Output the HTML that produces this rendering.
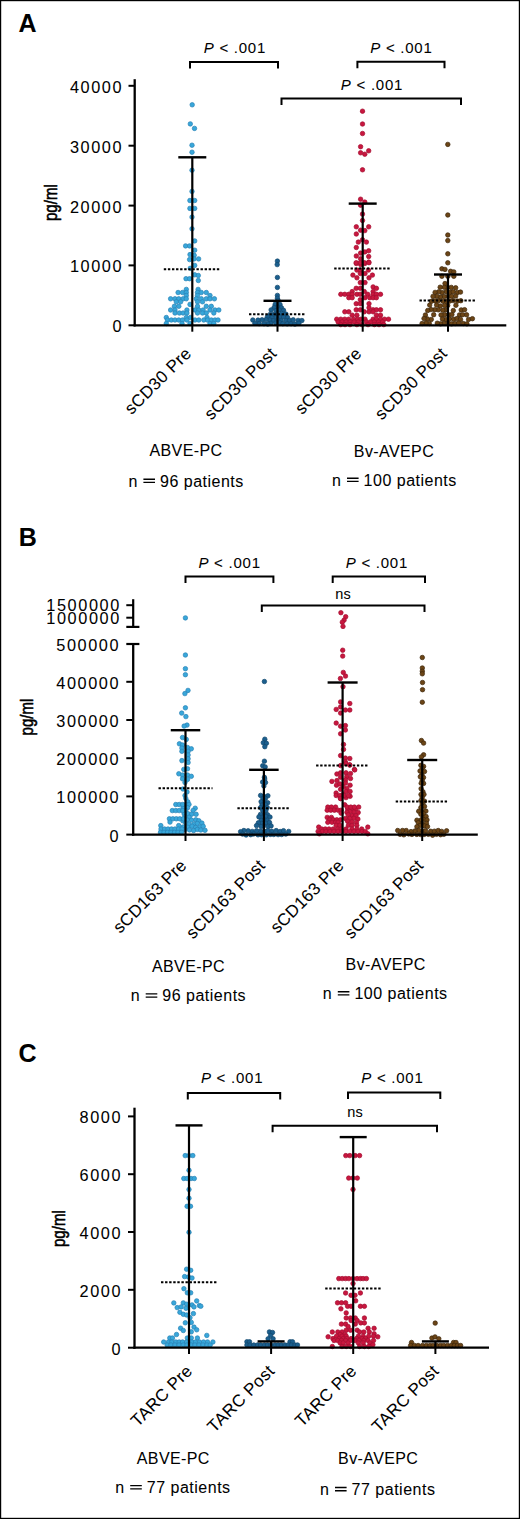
<!DOCTYPE html><html><head><meta charset="utf-8"><style>html,body{margin:0;padding:0;background:#fff}svg{display:block}text{font-family:'Liberation Sans',sans-serif;fill:#000;stroke:#000;stroke-width:0.06px}</style></head><body>
<svg width="520" height="1519" viewBox="0 0 520 1519">
<rect x="0.5" y="0.5" width="519" height="1518" fill="#fff" stroke="#000" stroke-width="1.4"/>
<text x="18.5" y="32" font-size="25" text-anchor="start" letter-spacing="0" font-weight="bold" font-style="normal" >A</text>
<g fill="#38a7da" stroke="#2982b6" stroke-width="0.7"><circle cx="192.2" cy="104.8" r="2.25"/><circle cx="190.3" cy="123.9" r="2.25"/><circle cx="194.5" cy="128.4" r="2.25"/><circle cx="192.0" cy="145.2" r="2.25"/><circle cx="192.0" cy="152.2" r="2.25"/><circle cx="192.0" cy="170.2" r="2.25"/><circle cx="192.0" cy="191.4" r="2.25"/><circle cx="189.9" cy="200.5" r="2.25"/><circle cx="194.7" cy="200.5" r="2.25"/><circle cx="189.9" cy="208.4" r="2.25"/><circle cx="194.7" cy="208.4" r="2.25"/><circle cx="192.0" cy="217.1" r="2.25"/><circle cx="192.0" cy="228.8" r="2.25"/><circle cx="194.7" cy="240.9" r="2.25"/><circle cx="185.6" cy="245.9" r="2.25"/><circle cx="189.6" cy="245.9" r="2.25"/><circle cx="194.7" cy="250.2" r="2.25"/><circle cx="190.0" cy="254.6" r="2.25"/><circle cx="194.2" cy="255.3" r="2.25"/><circle cx="189.6" cy="259.6" r="2.25"/><circle cx="194.0" cy="258.9" r="2.25"/><circle cx="198.6" cy="258.9" r="2.25"/><circle cx="194.7" cy="265.4" r="2.25"/><circle cx="190.3" cy="268.3" r="2.25"/><circle cx="194.7" cy="274.8" r="2.25"/><circle cx="198.3" cy="275.5" r="2.25"/><circle cx="186.0" cy="278.7" r="2.25"/><circle cx="189.6" cy="278.7" r="2.25"/><circle cx="198.3" cy="280.5" r="2.25"/><circle cx="186.3" cy="289.4" r="2.25"/><circle cx="198.1" cy="289.4" r="2.25"/><circle cx="178.1" cy="292.5" r="2.25"/><circle cx="182.5" cy="292.5" r="2.25"/><circle cx="186.3" cy="292.5" r="2.25"/><circle cx="197.5" cy="292.5" r="2.25"/><circle cx="201.3" cy="292.5" r="2.25"/><circle cx="206.3" cy="292.5" r="2.25"/><circle cx="186.3" cy="295.5" r="2.25"/><circle cx="197.5" cy="295.5" r="2.25"/><circle cx="210.0" cy="295.5" r="2.25"/><circle cx="170.6" cy="298.8" r="2.25"/><circle cx="175.0" cy="298.8" r="2.25"/><circle cx="178.8" cy="298.8" r="2.25"/><circle cx="183.1" cy="298.8" r="2.25"/><circle cx="186.3" cy="298.8" r="2.25"/><circle cx="196.3" cy="298.8" r="2.25"/><circle cx="201.3" cy="298.8" r="2.25"/><circle cx="206.3" cy="298.8" r="2.25"/><circle cx="210.0" cy="298.8" r="2.25"/><circle cx="214.4" cy="298.8" r="2.25"/><circle cx="176.3" cy="301.8" r="2.25"/><circle cx="180.6" cy="301.8" r="2.25"/><circle cx="197.5" cy="301.8" r="2.25"/><circle cx="202.5" cy="301.8" r="2.25"/><circle cx="190.0" cy="304.4" r="2.25"/><circle cx="174.4" cy="306.3" r="2.25"/><circle cx="178.8" cy="306.3" r="2.25"/><circle cx="197.5" cy="306.3" r="2.25"/><circle cx="206.3" cy="306.3" r="2.25"/><circle cx="211.3" cy="306.3" r="2.25"/><circle cx="170.6" cy="310.0" r="2.25"/><circle cx="175.0" cy="310.0" r="2.25"/><circle cx="186.9" cy="310.0" r="2.25"/><circle cx="195.0" cy="310.0" r="2.25"/><circle cx="198.8" cy="310.0" r="2.25"/><circle cx="203.1" cy="310.0" r="2.25"/><circle cx="210.0" cy="310.0" r="2.25"/><circle cx="215.0" cy="310.0" r="2.25"/><circle cx="218.8" cy="310.0" r="2.25"/><circle cx="175.0" cy="313.0" r="2.25"/><circle cx="179.4" cy="313.0" r="2.25"/><circle cx="183.1" cy="313.0" r="2.25"/><circle cx="186.9" cy="313.0" r="2.25"/><circle cx="197.5" cy="313.0" r="2.25"/><circle cx="202.5" cy="313.0" r="2.25"/><circle cx="206.3" cy="313.0" r="2.25"/><circle cx="213.8" cy="313.0" r="2.25"/><circle cx="166.3" cy="317.5" r="2.25"/><circle cx="186.3" cy="317.5" r="2.25"/><circle cx="190.5" cy="317.5" r="2.25"/><circle cx="207.0" cy="317.5" r="2.25"/><circle cx="167.5" cy="320.0" r="2.25"/><circle cx="171.3" cy="320.0" r="2.25"/><circle cx="175.0" cy="320.0" r="2.25"/><circle cx="178.8" cy="320.0" r="2.25"/><circle cx="182.5" cy="320.0" r="2.25"/><circle cx="186.9" cy="320.0" r="2.25"/><circle cx="195.0" cy="320.0" r="2.25"/><circle cx="198.8" cy="320.0" r="2.25"/><circle cx="203.8" cy="320.0" r="2.25"/><circle cx="207.5" cy="320.0" r="2.25"/><circle cx="211.3" cy="320.0" r="2.25"/><circle cx="215.0" cy="320.0" r="2.25"/><circle cx="218.0" cy="320.0" r="2.25"/><circle cx="166.3" cy="323.5" r="2.25"/><circle cx="182.0" cy="323.5" r="2.25"/><circle cx="190.0" cy="323.5" r="2.25"/><circle cx="210.0" cy="323.5" r="2.25"/><circle cx="213.8" cy="323.5" r="2.25"/></g>
<g fill="#1b5f8e" stroke="#13486d" stroke-width="0.7"><circle cx="277.4" cy="261.1" r="2.25"/><circle cx="277.2" cy="264.6" r="2.25"/><circle cx="277.4" cy="277.4" r="2.25"/><circle cx="277.4" cy="287.4" r="2.25"/><circle cx="277.4" cy="295.4" r="2.25"/><circle cx="277.4" cy="298.2" r="2.25"/><circle cx="278.1" cy="300.4" r="2.25"/><circle cx="280.0" cy="304.5" r="2.25"/><circle cx="275.2" cy="304.3" r="2.25"/><circle cx="277.6" cy="306.9" r="2.25"/><circle cx="281.4" cy="307.7" r="2.25"/><circle cx="274.1" cy="307.5" r="2.25"/><circle cx="279.2" cy="310.0" r="2.25"/><circle cx="283.5" cy="310.3" r="2.25"/><circle cx="276.0" cy="310.6" r="2.25"/><circle cx="271.1" cy="309.9" r="2.25"/><circle cx="277.0" cy="313.8" r="2.25"/><circle cx="281.7" cy="313.4" r="2.25"/><circle cx="285.9" cy="314.1" r="2.25"/><circle cx="273.9" cy="314.2" r="2.25"/><circle cx="270.2" cy="314.4" r="2.25"/><circle cx="279.9" cy="317.3" r="2.25"/><circle cx="283.5" cy="317.0" r="2.25"/><circle cx="287.5" cy="317.5" r="2.25"/><circle cx="276.0" cy="317.6" r="2.25"/><circle cx="271.6" cy="317.6" r="2.25"/><circle cx="267.5" cy="316.6" r="2.25"/><circle cx="277.8" cy="319.7" r="2.25"/><circle cx="281.2" cy="320.8" r="2.25"/><circle cx="286.1" cy="320.5" r="2.25"/><circle cx="289.5" cy="320.4" r="2.25"/><circle cx="293.2" cy="319.8" r="2.25"/><circle cx="298.1" cy="320.4" r="2.25"/><circle cx="301.9" cy="320.5" r="2.25"/><circle cx="273.1" cy="320.5" r="2.25"/><circle cx="269.7" cy="319.9" r="2.25"/><circle cx="266.0" cy="319.6" r="2.25"/><circle cx="262.0" cy="319.8" r="2.25"/><circle cx="258.0" cy="320.1" r="2.25"/><circle cx="252.8" cy="320.0" r="2.25"/><circle cx="279.7" cy="322.8" r="2.25"/><circle cx="282.8" cy="323.7" r="2.25"/><circle cx="287.2" cy="323.8" r="2.25"/><circle cx="291.1" cy="323.7" r="2.25"/><circle cx="294.9" cy="324.1" r="2.25"/><circle cx="298.9" cy="323.2" r="2.25"/><circle cx="275.8" cy="322.9" r="2.25"/><circle cx="270.8" cy="323.3" r="2.25"/><circle cx="267.8" cy="324.0" r="2.25"/><circle cx="264.0" cy="323.7" r="2.25"/><circle cx="259.1" cy="323.6" r="2.25"/><circle cx="254.9" cy="323.3" r="2.25"/></g>
<g fill="#c8173f" stroke="#a30f31" stroke-width="0.7"><circle cx="362.5" cy="111.2" r="2.25"/><circle cx="362.5" cy="124.0" r="2.25"/><circle cx="362.5" cy="133.5" r="2.25"/><circle cx="360.6" cy="146.7" r="2.25"/><circle cx="360.6" cy="152.8" r="2.25"/><circle cx="364.8" cy="154.2" r="2.25"/><circle cx="368.7" cy="150.8" r="2.25"/><circle cx="362.5" cy="169.8" r="2.25"/><circle cx="360.6" cy="199.2" r="2.25"/><circle cx="364.8" cy="202.1" r="2.25"/><circle cx="360.6" cy="205.2" r="2.25"/><circle cx="362.5" cy="214.1" r="2.25"/><circle cx="362.5" cy="220.5" r="2.25"/><circle cx="356.3" cy="226.8" r="2.25"/><circle cx="368.7" cy="226.8" r="2.25"/><circle cx="360.6" cy="230.2" r="2.25"/><circle cx="364.8" cy="230.6" r="2.25"/><circle cx="356.3" cy="234.0" r="2.25"/><circle cx="362.5" cy="239.8" r="2.25"/><circle cx="358.3" cy="242.1" r="2.25"/><circle cx="366.4" cy="242.1" r="2.25"/><circle cx="356.3" cy="247.5" r="2.25"/><circle cx="360.6" cy="253.1" r="2.25"/><circle cx="364.8" cy="251.9" r="2.25"/><circle cx="368.7" cy="250.8" r="2.25"/><circle cx="356.3" cy="256.0" r="2.25"/><circle cx="368.7" cy="256.5" r="2.25"/><circle cx="360.6" cy="258.8" r="2.25"/><circle cx="356.3" cy="263.5" r="2.25"/><circle cx="360.6" cy="264.4" r="2.25"/><circle cx="364.8" cy="263.5" r="2.25"/><circle cx="368.7" cy="262.1" r="2.25"/><circle cx="356.2" cy="262.7" r="2.25"/><circle cx="360.3" cy="262.7" r="2.25"/><circle cx="364.3" cy="262.7" r="2.25"/><circle cx="369.0" cy="262.7" r="2.25"/><circle cx="356.9" cy="270.1" r="2.25"/><circle cx="360.3" cy="270.1" r="2.25"/><circle cx="368.4" cy="270.1" r="2.25"/><circle cx="360.3" cy="273.5" r="2.25"/><circle cx="365.0" cy="273.5" r="2.25"/><circle cx="352.9" cy="275.1" r="2.25"/><circle cx="372.4" cy="275.1" r="2.25"/><circle cx="356.9" cy="277.8" r="2.25"/><circle cx="369.0" cy="277.8" r="2.25"/><circle cx="360.3" cy="282.6" r="2.25"/><circle cx="365.0" cy="282.6" r="2.25"/><circle cx="373.1" cy="286.9" r="2.25"/><circle cx="356.2" cy="288.3" r="2.25"/><circle cx="360.3" cy="288.3" r="2.25"/><circle cx="376.4" cy="288.3" r="2.25"/><circle cx="352.2" cy="291.6" r="2.25"/><circle cx="364.3" cy="291.6" r="2.25"/><circle cx="373.1" cy="291.6" r="2.25"/><circle cx="340.8" cy="294.3" r="2.25"/><circle cx="344.8" cy="294.3" r="2.25"/><circle cx="348.8" cy="294.3" r="2.25"/><circle cx="352.2" cy="294.3" r="2.25"/><circle cx="356.9" cy="294.3" r="2.25"/><circle cx="360.3" cy="294.3" r="2.25"/><circle cx="367.7" cy="294.3" r="2.25"/><circle cx="373.1" cy="294.3" r="2.25"/><circle cx="376.4" cy="294.3" r="2.25"/><circle cx="380.5" cy="294.3" r="2.25"/><circle cx="348.8" cy="297.7" r="2.25"/><circle cx="352.2" cy="297.7" r="2.25"/><circle cx="365.0" cy="297.7" r="2.25"/><circle cx="369.7" cy="297.7" r="2.25"/><circle cx="373.1" cy="297.7" r="2.25"/><circle cx="376.4" cy="297.7" r="2.25"/><circle cx="360.3" cy="299.7" r="2.25"/><circle cx="356.2" cy="303.7" r="2.25"/><circle cx="360.3" cy="303.7" r="2.25"/><circle cx="369.0" cy="303.7" r="2.25"/><circle cx="369.0" cy="307.8" r="2.25"/><circle cx="356.2" cy="309.8" r="2.25"/><circle cx="360.3" cy="309.8" r="2.25"/><circle cx="373.1" cy="309.8" r="2.25"/><circle cx="376.4" cy="309.8" r="2.25"/><circle cx="380.5" cy="309.8" r="2.25"/><circle cx="344.8" cy="311.8" r="2.25"/><circle cx="348.8" cy="311.8" r="2.25"/><circle cx="364.3" cy="311.8" r="2.25"/><circle cx="369.0" cy="311.8" r="2.25"/><circle cx="373.1" cy="311.8" r="2.25"/><circle cx="352.2" cy="315.2" r="2.25"/><circle cx="356.9" cy="315.2" r="2.25"/><circle cx="376.4" cy="315.2" r="2.25"/><circle cx="380.5" cy="315.2" r="2.25"/><circle cx="336.7" cy="319.2" r="2.25"/><circle cx="340.8" cy="319.2" r="2.25"/><circle cx="344.8" cy="319.2" r="2.25"/><circle cx="348.8" cy="319.2" r="2.25"/><circle cx="353.6" cy="319.2" r="2.25"/><circle cx="357.6" cy="319.2" r="2.25"/><circle cx="361.0" cy="319.2" r="2.25"/><circle cx="365.0" cy="319.2" r="2.25"/><circle cx="373.1" cy="319.2" r="2.25"/><circle cx="376.4" cy="319.2" r="2.25"/><circle cx="380.5" cy="319.2" r="2.25"/><circle cx="384.5" cy="319.2" r="2.25"/><circle cx="388.5" cy="319.2" r="2.25"/><circle cx="338.1" cy="321.9" r="2.25"/><circle cx="342.1" cy="321.9" r="2.25"/><circle cx="346.2" cy="321.9" r="2.25"/><circle cx="350.2" cy="321.9" r="2.25"/><circle cx="354.2" cy="321.9" r="2.25"/><circle cx="358.3" cy="321.9" r="2.25"/><circle cx="366.3" cy="321.9" r="2.25"/><circle cx="370.4" cy="321.9" r="2.25"/><circle cx="374.4" cy="321.9" r="2.25"/><circle cx="378.5" cy="321.9" r="2.25"/><circle cx="382.5" cy="321.9" r="2.25"/><circle cx="340.8" cy="324.6" r="2.25"/><circle cx="345.0" cy="324.6" r="2.25"/><circle cx="350.0" cy="324.6" r="2.25"/><circle cx="356.9" cy="324.6" r="2.25"/><circle cx="362.0" cy="324.6" r="2.25"/><circle cx="368.0" cy="324.6" r="2.25"/><circle cx="374.4" cy="324.6" r="2.25"/><circle cx="379.0" cy="324.6" r="2.25"/><circle cx="383.8" cy="324.6" r="2.25"/></g>
<g fill="#6c4516" stroke="#3e270b" stroke-width="0.7"><circle cx="447.8" cy="144.4" r="2.25"/><circle cx="447.8" cy="215.0" r="2.25"/><circle cx="447.8" cy="235.0" r="2.25"/><circle cx="447.8" cy="240.6" r="2.25"/><circle cx="447.8" cy="253.8" r="2.25"/><circle cx="447.8" cy="262.8" r="2.25"/><circle cx="441.9" cy="268.8" r="2.25"/><circle cx="445.0" cy="269.4" r="2.25"/><circle cx="450.6" cy="271.3" r="2.25"/><circle cx="453.8" cy="271.9" r="2.25"/><circle cx="441.9" cy="276.3" r="2.25"/><circle cx="447.8" cy="276.3" r="2.25"/><circle cx="453.8" cy="276.3" r="2.25"/><circle cx="445.0" cy="283.5" r="2.25"/><circle cx="447.6" cy="287.4" r="2.25"/><circle cx="451.3" cy="287.4" r="2.25"/><circle cx="455.7" cy="287.8" r="2.25"/><circle cx="444.3" cy="287.3" r="2.25"/><circle cx="440.2" cy="287.2" r="2.25"/><circle cx="450.2" cy="292.3" r="2.25"/><circle cx="453.2" cy="291.8" r="2.25"/><circle cx="457.5" cy="292.4" r="2.25"/><circle cx="460.5" cy="292.1" r="2.25"/><circle cx="446.2" cy="291.7" r="2.25"/><circle cx="442.0" cy="292.4" r="2.25"/><circle cx="438.8" cy="291.8" r="2.25"/><circle cx="435.1" cy="292.4" r="2.25"/><circle cx="448.0" cy="296.4" r="2.25"/><circle cx="451.6" cy="296.2" r="2.25"/><circle cx="455.7" cy="296.0" r="2.25"/><circle cx="444.1" cy="296.5" r="2.25"/><circle cx="440.4" cy="297.0" r="2.25"/><circle cx="436.8" cy="296.2" r="2.25"/><circle cx="433.0" cy="296.4" r="2.25"/><circle cx="449.7" cy="301.1" r="2.25"/><circle cx="453.2" cy="300.6" r="2.25"/><circle cx="457.5" cy="301.1" r="2.25"/><circle cx="460.8" cy="300.7" r="2.25"/><circle cx="445.7" cy="301.2" r="2.25"/><circle cx="442.9" cy="301.2" r="2.25"/><circle cx="438.3" cy="300.8" r="2.25"/><circle cx="435.3" cy="300.9" r="2.25"/><circle cx="431.5" cy="301.3" r="2.25"/><circle cx="447.7" cy="305.4" r="2.25"/><circle cx="455.9" cy="305.3" r="2.25"/><circle cx="444.6" cy="305.4" r="2.25"/><circle cx="440.2" cy="306.0" r="2.25"/><circle cx="436.6" cy="305.1" r="2.25"/><circle cx="429.7" cy="305.1" r="2.25"/><circle cx="453.3" cy="310.5" r="2.25"/><circle cx="461.2" cy="309.9" r="2.25"/><circle cx="464.6" cy="309.7" r="2.25"/><circle cx="445.7" cy="309.9" r="2.25"/><circle cx="442.8" cy="310.3" r="2.25"/><circle cx="438.3" cy="309.8" r="2.25"/><circle cx="434.8" cy="309.7" r="2.25"/><circle cx="431.0" cy="309.6" r="2.25"/><circle cx="427.7" cy="310.5" r="2.25"/><circle cx="448.4" cy="314.7" r="2.25"/><circle cx="451.9" cy="314.5" r="2.25"/><circle cx="459.5" cy="314.9" r="2.25"/><circle cx="462.6" cy="314.7" r="2.25"/><circle cx="466.6" cy="314.8" r="2.25"/><circle cx="444.5" cy="314.7" r="2.25"/><circle cx="441.0" cy="315.0" r="2.25"/><circle cx="433.7" cy="314.7" r="2.25"/><circle cx="425.4" cy="315.0" r="2.25"/><circle cx="449.4" cy="318.7" r="2.25"/><circle cx="453.6" cy="319.2" r="2.25"/><circle cx="457.0" cy="318.5" r="2.25"/><circle cx="460.5" cy="319.4" r="2.25"/><circle cx="468.6" cy="319.4" r="2.25"/><circle cx="472.4" cy="318.7" r="2.25"/><circle cx="446.0" cy="319.4" r="2.25"/><circle cx="442.4" cy="319.0" r="2.25"/><circle cx="431.3" cy="319.4" r="2.25"/><circle cx="427.3" cy="318.9" r="2.25"/><circle cx="424.0" cy="318.5" r="2.25"/><circle cx="448.3" cy="323.1" r="2.25"/><circle cx="451.6" cy="323.8" r="2.25"/><circle cx="455.1" cy="323.5" r="2.25"/><circle cx="458.7" cy="323.1" r="2.25"/><circle cx="463.2" cy="323.5" r="2.25"/><circle cx="466.9" cy="323.8" r="2.25"/><circle cx="444.0" cy="323.3" r="2.25"/><circle cx="440.5" cy="323.8" r="2.25"/><circle cx="437.3" cy="323.2" r="2.25"/><circle cx="429.3" cy="323.5" r="2.25"/><circle cx="426.0" cy="323.0" r="2.25"/><circle cx="422.1" cy="323.5" r="2.25"/></g>
<line x1="134.7" y1="79.2" x2="134.7" y2="326.40000000000003" stroke="#000" stroke-width="2.3" />
<line x1="133.6" y1="325.3" x2="506.3" y2="325.3" stroke="#000" stroke-width="2.3" />
<line x1="128.5" y1="325.3" x2="134.7" y2="325.3" stroke="#000" stroke-width="2" />
<text x="123.2" y="332.2" font-size="16.3" text-anchor="end" letter-spacing="1.6">0</text>
<line x1="128.5" y1="265.4" x2="134.7" y2="265.4" stroke="#000" stroke-width="2" />
<text x="123.2" y="272.29999999999995" font-size="16.3" text-anchor="end" letter-spacing="1.6">10000</text>
<line x1="128.5" y1="205.6" x2="134.7" y2="205.6" stroke="#000" stroke-width="2" />
<text x="123.2" y="212.5" font-size="16.3" text-anchor="end" letter-spacing="1.6">20000</text>
<line x1="128.5" y1="145.7" x2="134.7" y2="145.7" stroke="#000" stroke-width="2" />
<text x="123.2" y="152.6" font-size="16.3" text-anchor="end" letter-spacing="1.6">30000</text>
<line x1="128.5" y1="85.8" x2="134.7" y2="85.8" stroke="#000" stroke-width="2" />
<text x="123.2" y="92.7" font-size="16.3" text-anchor="end" letter-spacing="1.6">40000</text>
<line x1="192.3" y1="325.3" x2="192.3" y2="331.7" stroke="#000" stroke-width="2" />
<line x1="277.5" y1="325.3" x2="277.5" y2="331.7" stroke="#000" stroke-width="2" />
<line x1="362.7" y1="325.3" x2="362.7" y2="331.7" stroke="#000" stroke-width="2" />
<line x1="448.0" y1="325.3" x2="448.0" y2="331.7" stroke="#000" stroke-width="2" />
<line x1="192.3" y1="157.3" x2="192.3" y2="325.3" stroke="#000" stroke-width="2.2" />
<line x1="178.3" y1="157.3" x2="206.3" y2="157.3" stroke="#000" stroke-width="2.4" />
<line x1="277.5" y1="300.8" x2="277.5" y2="325.3" stroke="#000" stroke-width="2.2" />
<line x1="263.5" y1="300.8" x2="291.5" y2="300.8" stroke="#000" stroke-width="2.4" />
<line x1="362.7" y1="203.6" x2="362.7" y2="325.3" stroke="#000" stroke-width="2.2" />
<line x1="348.7" y1="203.6" x2="376.7" y2="203.6" stroke="#000" stroke-width="2.4" />
<line x1="448.0" y1="274.5" x2="448.0" y2="325.3" stroke="#000" stroke-width="2.2" />
<line x1="434.0" y1="274.5" x2="462.0" y2="274.5" stroke="#000" stroke-width="2.4" />
<line x1="163.8" y1="269.3" x2="220.8" y2="269.3" stroke="#000" stroke-width="2" stroke-dasharray="2.4 1.68"/>
<line x1="249.0" y1="314.3" x2="306.0" y2="314.3" stroke="#000" stroke-width="2" stroke-dasharray="2.4 1.68"/>
<line x1="334.2" y1="268.5" x2="391.2" y2="268.5" stroke="#000" stroke-width="2" stroke-dasharray="2.4 1.68"/>
<line x1="419.5" y1="300.5" x2="476.5" y2="300.5" stroke="#000" stroke-width="2" stroke-dasharray="2.4 1.68"/>
<path d="M190 68.5 V62 H278 V68.5" fill="none" stroke="#000" stroke-width="2"/>
<text x="234.9" y="53" font-size="15" letter-spacing="0.75" text-anchor="middle"><tspan font-style="italic">P</tspan> &lt; .001</text>
<path d="M357.4 68.2 V61.7 H444.5 V68.2" fill="none" stroke="#000" stroke-width="2"/>
<text x="401.4" y="53" font-size="15" letter-spacing="0.75" text-anchor="middle"><tspan font-style="italic">P</tspan> &lt; .001</text>
<path d="M281.5 104.9 V98.4 H461 V104.9" fill="none" stroke="#000" stroke-width="2"/>
<text x="372.0" y="90.3" font-size="15" letter-spacing="0.75" text-anchor="middle"><tspan font-style="italic">P</tspan> &lt; .001</text>
<text transform="translate(51,202.6) rotate(-90) scale(0.84,1)" x="0" y="0" font-size="18" text-anchor="middle" dominant-baseline="central" style="stroke-width:0.55px">pg/ml</text>
<text transform="translate(192.3,354.5) rotate(-45)" x="0" y="0" font-size="17" text-anchor="end" letter-spacing="0.3">sCD30 Pre</text>
<text transform="translate(277.5,354.5) rotate(-45)" x="0" y="0" font-size="17" text-anchor="end" letter-spacing="0.3">sCD30 Post</text>
<text transform="translate(362.7,354.5) rotate(-45)" x="0" y="0" font-size="17" text-anchor="end" letter-spacing="0.3">sCD30 Pre</text>
<text transform="translate(448.0,354.5) rotate(-45)" x="0" y="0" font-size="17" text-anchor="end" letter-spacing="0.3">sCD30 Post</text>
<text x="186" y="456.2" font-size="16" text-anchor="middle" letter-spacing="0.4" font-weight="normal" font-style="normal" >ABVE-PC</text>
<text x="128.4" y="486.5" font-size="16">n</text>
<path d="M143.4 479.2H155.0M143.4 482.4H155.0" stroke="#000" stroke-width="1.35"/>
<text x="160.0" y="486.5" font-size="16" letter-spacing="0.5">96 patients</text>
<text x="394" y="456.6" font-size="16" text-anchor="middle" letter-spacing="0.4" font-weight="normal" font-style="normal" >Bv-AVEPC</text>
<text x="332.0" y="485.5" font-size="16">n</text>
<path d="M347 478.2H358.6M347 481.4H358.6" stroke="#000" stroke-width="1.35"/>
<text x="363.6" y="485.5" font-size="16" letter-spacing="0.5">100 patients</text>
<text x="18.8" y="546.3" font-size="25" text-anchor="start" letter-spacing="0" font-weight="bold" font-style="normal" >B</text>
<g fill="#38a7da" stroke="#2982b6" stroke-width="0.7"><circle cx="185.4" cy="617.9" r="2.25"/><circle cx="185.4" cy="655.0" r="2.25"/><circle cx="185.4" cy="668.7" r="2.25"/><circle cx="185.4" cy="674.7" r="2.25"/><circle cx="188.0" cy="690.4" r="2.25"/><circle cx="184.9" cy="693.6" r="2.25"/><circle cx="185.4" cy="707.8" r="2.25"/><circle cx="181.7" cy="713.1" r="2.25"/><circle cx="185.9" cy="716.6" r="2.25"/><circle cx="187.0" cy="725.1" r="2.25"/><circle cx="184.1" cy="726.1" r="2.25"/><circle cx="182.5" cy="737.5" r="2.25"/><circle cx="186.3" cy="739.4" r="2.25"/><circle cx="179.4" cy="743.8" r="2.25"/><circle cx="182.5" cy="745.0" r="2.25"/><circle cx="181.9" cy="748.1" r="2.25"/><circle cx="187.5" cy="747.5" r="2.25"/><circle cx="191.3" cy="748.8" r="2.25"/><circle cx="181.9" cy="751.3" r="2.25"/><circle cx="188.1" cy="751.3" r="2.25"/><circle cx="188.1" cy="755.0" r="2.25"/><circle cx="181.9" cy="760.6" r="2.25"/><circle cx="188.1" cy="758.8" r="2.25"/><circle cx="188.1" cy="762.5" r="2.25"/><circle cx="183.8" cy="769.4" r="2.25"/><circle cx="187.5" cy="768.8" r="2.25"/><circle cx="178.8" cy="773.8" r="2.25"/><circle cx="182.5" cy="775.0" r="2.25"/><circle cx="187.5" cy="775.0" r="2.25"/><circle cx="191.3" cy="776.3" r="2.25"/><circle cx="182.5" cy="778.8" r="2.25"/><circle cx="187.5" cy="779.4" r="2.25"/><circle cx="185.0" cy="782.5" r="2.25"/><circle cx="183.0" cy="789.0" r="2.25"/><circle cx="187.0" cy="792.0" r="2.25"/><circle cx="185.0" cy="795.5" r="2.25"/><circle cx="185.8" cy="798.4" r="2.25"/><circle cx="187.8" cy="801.8" r="2.25"/><circle cx="186.1" cy="804.6" r="2.25"/><circle cx="189.0" cy="804.4" r="2.25"/><circle cx="187.6" cy="807.7" r="2.25"/><circle cx="195.2" cy="808.2" r="2.25"/><circle cx="183.0" cy="808.0" r="2.25"/><circle cx="185.7" cy="810.3" r="2.25"/><circle cx="193.1" cy="810.4" r="2.25"/><circle cx="188.0" cy="813.7" r="2.25"/><circle cx="191.6" cy="814.2" r="2.25"/><circle cx="196.1" cy="814.3" r="2.25"/><circle cx="184.1" cy="813.7" r="2.25"/><circle cx="185.0" cy="816.7" r="2.25"/><circle cx="189.2" cy="817.3" r="2.25"/><circle cx="187.3" cy="820.1" r="2.25"/><circle cx="191.5" cy="820.1" r="2.25"/><circle cx="195.8" cy="819.8" r="2.25"/><circle cx="198.8" cy="820.7" r="2.25"/><circle cx="182.8" cy="820.8" r="2.25"/><circle cx="185.6" cy="822.9" r="2.25"/><circle cx="189.1" cy="824.2" r="2.25"/><circle cx="193.9" cy="824.2" r="2.25"/><circle cx="197.3" cy="823.4" r="2.25"/><circle cx="201.9" cy="823.1" r="2.25"/><circle cx="187.9" cy="827.3" r="2.25"/><circle cx="192.1" cy="826.2" r="2.25"/><circle cx="195.7" cy="827.4" r="2.25"/><circle cx="200.1" cy="826.9" r="2.25"/><circle cx="203.2" cy="826.3" r="2.25"/><circle cx="183.0" cy="827.1" r="2.25"/><circle cx="185.0" cy="829.4" r="2.25"/><circle cx="189.5" cy="829.9" r="2.25"/><circle cx="193.6" cy="830.5" r="2.25"/><circle cx="197.4" cy="829.4" r="2.25"/><circle cx="200.8" cy="830.0" r="2.25"/><circle cx="205.0" cy="830.3" r="2.25"/><circle cx="175.8" cy="804.5" r="2.25"/><circle cx="179.2" cy="804.5" r="2.25"/><circle cx="182.7" cy="804.5" r="2.25"/><circle cx="172.3" cy="810.6" r="2.25"/><circle cx="175.8" cy="810.6" r="2.25"/><circle cx="179.2" cy="810.6" r="2.25"/><circle cx="182.7" cy="810.6" r="2.25"/><circle cx="169.4" cy="818.8" r="2.25"/><circle cx="172.9" cy="818.8" r="2.25"/><circle cx="176.3" cy="818.8" r="2.25"/><circle cx="179.8" cy="818.8" r="2.25"/><circle cx="183.3" cy="818.8" r="2.25"/><circle cx="170.0" cy="822.1" r="2.25"/><circle cx="160.8" cy="825.6" r="2.25"/><circle cx="178.7" cy="825.6" r="2.25"/><circle cx="161.0" cy="829.0" r="2.25"/><circle cx="164.5" cy="829.0" r="2.25"/><circle cx="168.0" cy="829.0" r="2.25"/><circle cx="171.5" cy="829.0" r="2.25"/><circle cx="175.0" cy="829.0" r="2.25"/><circle cx="178.5" cy="829.0" r="2.25"/><circle cx="182.0" cy="829.0" r="2.25"/><circle cx="160.5" cy="832.3" r="2.25"/><circle cx="164.0" cy="832.3" r="2.25"/><circle cx="167.5" cy="832.3" r="2.25"/><circle cx="171.0" cy="832.3" r="2.25"/><circle cx="174.5" cy="832.3" r="2.25"/><circle cx="178.0" cy="832.3" r="2.25"/><circle cx="181.5" cy="832.3" r="2.25"/></g>
<g fill="#1b5f8e" stroke="#13486d" stroke-width="0.7"><circle cx="264.4" cy="681.5" r="2.25"/><circle cx="264.8" cy="739.2" r="2.25"/><circle cx="263.3" cy="742.7" r="2.25"/><circle cx="266.4" cy="743.3" r="2.25"/><circle cx="264.8" cy="746.7" r="2.25"/><circle cx="264.4" cy="761.2" r="2.25"/><circle cx="262.7" cy="765.8" r="2.25"/><circle cx="265.2" cy="766.9" r="2.25"/><circle cx="264.4" cy="777.3" r="2.25"/><circle cx="264.7" cy="779.0" r="2.25"/><circle cx="265.5" cy="782.5" r="2.25"/><circle cx="262.6" cy="782.1" r="2.25"/><circle cx="263.9" cy="786.0" r="2.25"/><circle cx="263.7" cy="796.2" r="2.25"/><circle cx="267.9" cy="795.8" r="2.25"/><circle cx="260.6" cy="795.4" r="2.25"/><circle cx="265.4" cy="798.4" r="2.25"/><circle cx="262.9" cy="798.5" r="2.25"/><circle cx="264.4" cy="802.6" r="2.25"/><circle cx="267.7" cy="802.7" r="2.25"/><circle cx="261.1" cy="801.7" r="2.25"/><circle cx="265.5" cy="804.7" r="2.25"/><circle cx="262.0" cy="805.1" r="2.25"/><circle cx="264.0" cy="808.1" r="2.25"/><circle cx="267.2" cy="807.6" r="2.25"/><circle cx="260.5" cy="807.7" r="2.25"/><circle cx="265.9" cy="810.7" r="2.25"/><circle cx="262.7" cy="810.6" r="2.25"/><circle cx="264.2" cy="814.5" r="2.25"/><circle cx="267.5" cy="814.7" r="2.25"/><circle cx="260.5" cy="814.4" r="2.25"/><circle cx="266.0" cy="816.4" r="2.25"/><circle cx="270.0" cy="817.1" r="2.25"/><circle cx="262.1" cy="817.3" r="2.25"/><circle cx="258.9" cy="816.9" r="2.25"/><circle cx="264.8" cy="820.0" r="2.25"/><circle cx="267.2" cy="820.3" r="2.25"/><circle cx="261.3" cy="820.5" r="2.25"/><circle cx="265.8" cy="823.2" r="2.25"/><circle cx="269.5" cy="822.5" r="2.25"/><circle cx="261.8" cy="823.4" r="2.25"/><circle cx="258.4" cy="822.8" r="2.25"/><circle cx="263.6" cy="825.9" r="2.25"/><circle cx="268.3" cy="826.4" r="2.25"/><circle cx="271.1" cy="825.9" r="2.25"/><circle cx="261.1" cy="826.6" r="2.25"/><circle cx="256.5" cy="825.6" r="2.25"/><circle cx="264.5" cy="831.3" r="2.25"/><circle cx="267.8" cy="830.6" r="2.25"/><circle cx="271.8" cy="831.3" r="2.25"/><circle cx="276.2" cy="830.6" r="2.25"/><circle cx="280.1" cy="831.5" r="2.25"/><circle cx="283.5" cy="830.7" r="2.25"/><circle cx="288.7" cy="831.4" r="2.25"/><circle cx="260.7" cy="831.3" r="2.25"/><circle cx="256.6" cy="830.7" r="2.25"/><circle cx="252.2" cy="831.4" r="2.25"/><circle cx="248.1" cy="830.8" r="2.25"/><circle cx="243.9" cy="830.5" r="2.25"/><circle cx="240.6" cy="831.7" r="2.25"/><circle cx="266.3" cy="834.8" r="2.25"/><circle cx="270.4" cy="834.4" r="2.25"/><circle cx="273.8" cy="834.5" r="2.25"/><circle cx="278.1" cy="834.6" r="2.25"/><circle cx="281.7" cy="834.5" r="2.25"/><circle cx="285.8" cy="834.1" r="2.25"/><circle cx="261.6" cy="834.7" r="2.25"/><circle cx="258.0" cy="834.8" r="2.25"/><circle cx="253.6" cy="834.0" r="2.25"/><circle cx="250.7" cy="834.7" r="2.25"/><circle cx="246.1" cy="835.0" r="2.25"/><circle cx="242.6" cy="834.1" r="2.25"/></g>
<g fill="#c8173f" stroke="#a30f31" stroke-width="0.7"><circle cx="340.9" cy="612.7" r="2.25"/><circle cx="345.7" cy="616.7" r="2.25"/><circle cx="344.1" cy="620.1" r="2.25"/><circle cx="342.3" cy="622.2" r="2.25"/><circle cx="343.0" cy="626.4" r="2.25"/><circle cx="342.7" cy="650.2" r="2.25"/><circle cx="342.7" cy="656.1" r="2.25"/><circle cx="343.3" cy="672.4" r="2.25"/><circle cx="345.5" cy="676.1" r="2.25"/><circle cx="340.4" cy="678.5" r="2.25"/><circle cx="343.0" cy="686.7" r="2.25"/><circle cx="340.6" cy="701.9" r="2.25"/><circle cx="349.8" cy="703.5" r="2.25"/><circle cx="340.6" cy="706.9" r="2.25"/><circle cx="336.2" cy="709.4" r="2.25"/><circle cx="345.4" cy="710.0" r="2.25"/><circle cx="349.8" cy="710.0" r="2.25"/><circle cx="340.6" cy="713.1" r="2.25"/><circle cx="336.2" cy="723.1" r="2.25"/><circle cx="340.6" cy="726.2" r="2.25"/><circle cx="345.4" cy="725.6" r="2.25"/><circle cx="345.4" cy="730.0" r="2.25"/><circle cx="340.6" cy="733.8" r="2.25"/><circle cx="343.5" cy="744.4" r="2.25"/><circle cx="343.5" cy="749.4" r="2.25"/><circle cx="340.6" cy="755.6" r="2.25"/><circle cx="345.4" cy="758.1" r="2.25"/><circle cx="349.8" cy="758.5" r="2.25"/><circle cx="345.4" cy="761.9" r="2.25"/><circle cx="340.6" cy="765.6" r="2.25"/><circle cx="349.8" cy="765.0" r="2.25"/><circle cx="354.4" cy="769.4" r="2.25"/><circle cx="346.0" cy="763.7" r="2.25"/><circle cx="349.7" cy="764.9" r="2.25"/><circle cx="354.7" cy="769.9" r="2.25"/><circle cx="336.9" cy="774.0" r="2.25"/><circle cx="340.6" cy="772.8" r="2.25"/><circle cx="346.0" cy="772.8" r="2.25"/><circle cx="350.5" cy="773.6" r="2.25"/><circle cx="340.6" cy="777.3" r="2.25"/><circle cx="346.8" cy="776.5" r="2.25"/><circle cx="331.9" cy="781.4" r="2.25"/><circle cx="336.9" cy="780.6" r="2.25"/><circle cx="345.6" cy="779.8" r="2.25"/><circle cx="350.5" cy="778.5" r="2.25"/><circle cx="336.5" cy="785.2" r="2.25"/><circle cx="339.8" cy="783.9" r="2.25"/><circle cx="345.6" cy="783.1" r="2.25"/><circle cx="350.1" cy="785.2" r="2.25"/><circle cx="340.6" cy="789.3" r="2.25"/><circle cx="346.8" cy="788.5" r="2.25"/><circle cx="336.1" cy="793.0" r="2.25"/><circle cx="346.0" cy="791.4" r="2.25"/><circle cx="350.1" cy="791.4" r="2.25"/><circle cx="340.6" cy="798.4" r="2.25"/><circle cx="346.0" cy="797.6" r="2.25"/><circle cx="350.1" cy="796.3" r="2.25"/><circle cx="343.0" cy="786.5" r="2.25"/><circle cx="343.0" cy="794.5" r="2.25"/><circle cx="352.1" cy="808.5" r="2.25"/><circle cx="355.6" cy="809.0" r="2.25"/><circle cx="347.7" cy="809.1" r="2.25"/><circle cx="353.7" cy="812.0" r="2.25"/><circle cx="358.2" cy="812.5" r="2.25"/><circle cx="349.9" cy="811.7" r="2.25"/><circle cx="346.9" cy="812.3" r="2.25"/><circle cx="352.1" cy="815.7" r="2.25"/><circle cx="356.0" cy="815.6" r="2.25"/><circle cx="348.2" cy="814.8" r="2.25"/><circle cx="353.9" cy="818.3" r="2.25"/><circle cx="357.9" cy="819.1" r="2.25"/><circle cx="349.7" cy="818.4" r="2.25"/><circle cx="345.6" cy="818.5" r="2.25"/><circle cx="351.8" cy="821.9" r="2.25"/><circle cx="356.4" cy="822.4" r="2.25"/><circle cx="347.6" cy="821.2" r="2.25"/><circle cx="336.2" cy="795.5" r="2.25"/><circle cx="339.9" cy="795.5" r="2.25"/><circle cx="344.0" cy="795.5" r="2.25"/><circle cx="348.4" cy="795.5" r="2.25"/><circle cx="340.5" cy="798.6" r="2.25"/><circle cx="344.7" cy="804.7" r="2.25"/><circle cx="327.8" cy="807.1" r="2.25"/><circle cx="331.4" cy="807.1" r="2.25"/><circle cx="335.6" cy="807.1" r="2.25"/><circle cx="347.2" cy="807.1" r="2.25"/><circle cx="350.8" cy="807.1" r="2.25"/><circle cx="354.4" cy="807.1" r="2.25"/><circle cx="358.7" cy="807.1" r="2.25"/><circle cx="327.2" cy="810.2" r="2.25"/><circle cx="330.8" cy="810.2" r="2.25"/><circle cx="334.4" cy="810.2" r="2.25"/><circle cx="338.1" cy="810.2" r="2.25"/><circle cx="341.1" cy="810.2" r="2.25"/><circle cx="341.1" cy="813.2" r="2.25"/><circle cx="327.2" cy="817.4" r="2.25"/><circle cx="331.4" cy="817.4" r="2.25"/><circle cx="329.6" cy="819.8" r="2.25"/><circle cx="333.2" cy="819.8" r="2.25"/><circle cx="336.8" cy="819.8" r="2.25"/><circle cx="340.5" cy="819.8" r="2.25"/><circle cx="327.8" cy="822.3" r="2.25"/><circle cx="332.0" cy="822.3" r="2.25"/><circle cx="335.6" cy="822.3" r="2.25"/><circle cx="338.1" cy="822.3" r="2.25"/><circle cx="336.2" cy="825.3" r="2.25"/><circle cx="339.9" cy="825.3" r="2.25"/><circle cx="348.4" cy="825.3" r="2.25"/><circle cx="352.0" cy="825.3" r="2.25"/><circle cx="356.8" cy="825.3" r="2.25"/><circle cx="318.7" cy="827.1" r="2.25"/><circle cx="367.8" cy="827.1" r="2.25"/><circle cx="321.7" cy="829.0" r="2.25"/><circle cx="325.3" cy="829.0" r="2.25"/><circle cx="329.0" cy="829.0" r="2.25"/><circle cx="333.2" cy="829.0" r="2.25"/><circle cx="337.5" cy="829.0" r="2.25"/><circle cx="341.1" cy="829.0" r="2.25"/><circle cx="346.0" cy="829.0" r="2.25"/><circle cx="352.0" cy="829.0" r="2.25"/><circle cx="356.8" cy="829.0" r="2.25"/><circle cx="361.7" cy="829.0" r="2.25"/><circle cx="318.1" cy="831.4" r="2.25"/><circle cx="322.3" cy="831.4" r="2.25"/><circle cx="326.0" cy="831.4" r="2.25"/><circle cx="330.0" cy="831.4" r="2.25"/><circle cx="334.0" cy="831.4" r="2.25"/><circle cx="338.0" cy="831.4" r="2.25"/><circle cx="342.0" cy="831.4" r="2.25"/><circle cx="346.0" cy="831.4" r="2.25"/><circle cx="350.0" cy="831.4" r="2.25"/><circle cx="354.0" cy="831.4" r="2.25"/><circle cx="358.0" cy="831.4" r="2.25"/><circle cx="362.0" cy="831.4" r="2.25"/><circle cx="365.3" cy="831.4" r="2.25"/><circle cx="319.3" cy="833.8" r="2.25"/><circle cx="367.8" cy="833.8" r="2.25"/></g>
<g fill="#6c4516" stroke="#3e270b" stroke-width="0.7"><circle cx="422.3" cy="657.5" r="2.25"/><circle cx="422.3" cy="668.0" r="2.25"/><circle cx="422.3" cy="671.2" r="2.25"/><circle cx="422.3" cy="673.8" r="2.25"/><circle cx="422.5" cy="682.5" r="2.25"/><circle cx="422.5" cy="689.7" r="2.25"/><circle cx="422.3" cy="702.2" r="2.25"/><circle cx="421.4" cy="740.5" r="2.25"/><circle cx="423.6" cy="743.1" r="2.25"/><circle cx="423.6" cy="754.8" r="2.25"/><circle cx="421.4" cy="756.9" r="2.25"/><circle cx="420.9" cy="765.3" r="2.25"/><circle cx="423.6" cy="766.4" r="2.25"/><circle cx="422.2" cy="768.1" r="2.25"/><circle cx="424.5" cy="771.5" r="2.25"/><circle cx="420.0" cy="771.0" r="2.25"/><circle cx="421.9" cy="774.6" r="2.25"/><circle cx="423.5" cy="777.5" r="2.25"/><circle cx="420.3" cy="776.7" r="2.25"/><circle cx="422.2" cy="780.3" r="2.25"/><circle cx="423.6" cy="783.4" r="2.25"/><circle cx="421.2" cy="783.2" r="2.25"/><circle cx="421.1" cy="788.7" r="2.25"/><circle cx="422.9" cy="791.7" r="2.25"/><circle cx="424.0" cy="794.4" r="2.25"/><circle cx="421.0" cy="794.5" r="2.25"/><circle cx="422.2" cy="797.4" r="2.25"/><circle cx="424.5" cy="801.2" r="2.25"/><circle cx="421.0" cy="800.5" r="2.25"/><circle cx="422.1" cy="804.1" r="2.25"/><circle cx="424.5" cy="806.4" r="2.25"/><circle cx="420.9" cy="807.6" r="2.25"/><circle cx="422.4" cy="811.6" r="2.25"/><circle cx="425.9" cy="811.1" r="2.25"/><circle cx="418.7" cy="811.2" r="2.25"/><circle cx="423.5" cy="813.7" r="2.25"/><circle cx="420.9" cy="814.3" r="2.25"/><circle cx="423.0" cy="817.7" r="2.25"/><circle cx="426.1" cy="816.5" r="2.25"/><circle cx="423.5" cy="819.6" r="2.25"/><circle cx="427.0" cy="819.9" r="2.25"/><circle cx="421.0" cy="820.0" r="2.25"/><circle cx="416.9" cy="820.2" r="2.25"/><circle cx="422.0" cy="823.7" r="2.25"/><circle cx="426.4" cy="823.3" r="2.25"/><circle cx="418.3" cy="822.7" r="2.25"/><circle cx="424.5" cy="825.9" r="2.25"/><circle cx="427.5" cy="826.6" r="2.25"/><circle cx="419.8" cy="825.6" r="2.25"/><circle cx="416.9" cy="826.7" r="2.25"/><circle cx="422.5" cy="831.2" r="2.25"/><circle cx="425.6" cy="830.8" r="2.25"/><circle cx="430.7" cy="831.3" r="2.25"/><circle cx="434.4" cy="831.2" r="2.25"/><circle cx="438.2" cy="830.5" r="2.25"/><circle cx="441.7" cy="831.4" r="2.25"/><circle cx="446.6" cy="830.8" r="2.25"/><circle cx="418.8" cy="830.3" r="2.25"/><circle cx="414.9" cy="831.0" r="2.25"/><circle cx="411.0" cy="831.6" r="2.25"/><circle cx="406.2" cy="830.5" r="2.25"/><circle cx="402.5" cy="830.5" r="2.25"/><circle cx="397.7" cy="830.5" r="2.25"/><circle cx="424.2" cy="834.4" r="2.25"/><circle cx="428.3" cy="834.3" r="2.25"/><circle cx="432.6" cy="835.2" r="2.25"/><circle cx="436.5" cy="834.3" r="2.25"/><circle cx="440.6" cy="834.7" r="2.25"/><circle cx="443.9" cy="834.3" r="2.25"/><circle cx="420.7" cy="834.5" r="2.25"/><circle cx="416.8" cy="834.4" r="2.25"/><circle cx="411.9" cy="834.4" r="2.25"/><circle cx="408.7" cy="833.9" r="2.25"/><circle cx="403.8" cy="834.8" r="2.25"/><circle cx="400.0" cy="834.3" r="2.25"/></g>
<line x1="133.2" y1="599.2" x2="133.2" y2="627.5" stroke="#000" stroke-width="2.2" />
<line x1="126.3" y1="626.9" x2="139.4" y2="626.9" stroke="#000" stroke-width="2.2" />
<line x1="126.3" y1="644" x2="139.4" y2="644" stroke="#000" stroke-width="2.2" />
<line x1="133.2" y1="643" x2="133.2" y2="835.7" stroke="#000" stroke-width="2.3" />
<line x1="132.1" y1="834.6" x2="477.8" y2="834.6" stroke="#000" stroke-width="2.3" />
<line x1="126.3" y1="605.2" x2="133.2" y2="605.2" stroke="#000" stroke-width="2" />
<text x="120.9" y="611.2" font-size="16.3" text-anchor="end" letter-spacing="1.6">1500000</text>
<line x1="126.3" y1="617.7" x2="133.2" y2="617.7" stroke="#000" stroke-width="2" />
<text x="120.9" y="623.7" font-size="16.3" text-anchor="end" letter-spacing="1.6">1000000</text>
<line x1="126.3" y1="834.6" x2="133.2" y2="834.6" stroke="#000" stroke-width="2" />
<text x="120.2" y="841.5" font-size="16.3" text-anchor="end" letter-spacing="1.6">0</text>
<line x1="126.3" y1="796.4" x2="133.2" y2="796.4" stroke="#000" stroke-width="2" />
<text x="120.2" y="803.3" font-size="16.3" text-anchor="end" letter-spacing="1.6">100000</text>
<line x1="126.3" y1="758.2" x2="133.2" y2="758.2" stroke="#000" stroke-width="2" />
<text x="120.2" y="765.1" font-size="16.3" text-anchor="end" letter-spacing="1.6">200000</text>
<line x1="126.3" y1="720.0" x2="133.2" y2="720.0" stroke="#000" stroke-width="2" />
<text x="120.2" y="726.9" font-size="16.3" text-anchor="end" letter-spacing="1.6">300000</text>
<line x1="126.3" y1="681.8" x2="133.2" y2="681.8" stroke="#000" stroke-width="2" />
<text x="120.2" y="688.6999999999999" font-size="16.3" text-anchor="end" letter-spacing="1.6">400000</text>
<text x="120.2" y="650.9" font-size="16.3" text-anchor="end" letter-spacing="1.6">500000</text>
<line x1="185.5" y1="834.6" x2="185.5" y2="841" stroke="#000" stroke-width="2" />
<line x1="263.9" y1="834.6" x2="263.9" y2="841" stroke="#000" stroke-width="2" />
<line x1="342.6" y1="834.6" x2="342.6" y2="841" stroke="#000" stroke-width="2" />
<line x1="422.2" y1="834.6" x2="422.2" y2="841" stroke="#000" stroke-width="2" />
<line x1="185.5" y1="730.2" x2="185.5" y2="834.6" stroke="#000" stroke-width="2.2" />
<line x1="170.75" y1="730.2" x2="200.25" y2="730.2" stroke="#000" stroke-width="2.4" />
<line x1="263.9" y1="769.8" x2="263.9" y2="834.6" stroke="#000" stroke-width="2.2" />
<line x1="249.14999999999998" y1="769.8" x2="278.65" y2="769.8" stroke="#000" stroke-width="2.4" />
<line x1="342.6" y1="682.5" x2="342.6" y2="834.6" stroke="#000" stroke-width="2.2" />
<line x1="327.6" y1="682.5" x2="357.6" y2="682.5" stroke="#000" stroke-width="2.4" />
<line x1="422.2" y1="760" x2="422.2" y2="834.6" stroke="#000" stroke-width="2.2" />
<line x1="407.2" y1="760" x2="437.2" y2="760" stroke="#000" stroke-width="2.4" />
<line x1="158.5" y1="788.3" x2="212.5" y2="788.3" stroke="#000" stroke-width="2" stroke-dasharray="2.4 1.68"/>
<line x1="237.39999999999998" y1="808.3" x2="290.4" y2="808.3" stroke="#000" stroke-width="2" stroke-dasharray="2.4 1.68"/>
<line x1="316.1" y1="765.5" x2="369.1" y2="765.5" stroke="#000" stroke-width="2" stroke-dasharray="2.4 1.68"/>
<line x1="395.7" y1="801.5" x2="448.7" y2="801.5" stroke="#000" stroke-width="2" stroke-dasharray="2.4 1.68"/>
<text transform="translate(27,717) rotate(-90) scale(0.84,1)" x="0" y="0" font-size="18" text-anchor="middle" dominant-baseline="central" style="stroke-width:0.55px">pg/ml</text>
<text transform="translate(187.7,866.5) rotate(-45)" x="0" y="0" font-size="17" text-anchor="end" letter-spacing="0.3">sCD163 Pre</text>
<text transform="translate(266.09999999999997,866.5) rotate(-45)" x="0" y="0" font-size="17" text-anchor="end" letter-spacing="0.3">sCD163 Post</text>
<text transform="translate(344.8,866.5) rotate(-45)" x="0" y="0" font-size="17" text-anchor="end" letter-spacing="0.3">sCD163 Pre</text>
<text transform="translate(424.4,866.5) rotate(-45)" x="0" y="0" font-size="17" text-anchor="end" letter-spacing="0.3">sCD163 Post</text>
<text x="188.5" y="971.5" font-size="16" text-anchor="middle" letter-spacing="0.4" font-weight="normal" font-style="normal" >ABVE-PC</text>
<text x="130.7" y="1001.2" font-size="16">n</text>
<path d="M145.7 993.9000000000001H157.29999999999998M145.7 997.1H157.29999999999998" stroke="#000" stroke-width="1.35"/>
<text x="162.29999999999998" y="1001.2" font-size="16" letter-spacing="0.5">96 patients</text>
<text x="385.7" y="969.6" font-size="16" text-anchor="middle" letter-spacing="0.4" font-weight="normal" font-style="normal" >Bv-AVEPC</text>
<text x="322.8" y="999" font-size="16">n</text>
<path d="M337.8 991.7H349.40000000000003M337.8 994.9H349.40000000000003" stroke="#000" stroke-width="1.35"/>
<text x="354.40000000000003" y="999" font-size="16" letter-spacing="0.5">100 patients</text>
<path d="M185.5 583.1 V576.6 H273.4 V583.1" fill="none" stroke="#000" stroke-width="2"/>
<text x="229.6" y="567.6" font-size="15" letter-spacing="0.75" text-anchor="middle"><tspan font-style="italic">P</tspan> &lt; .001</text>
<path d="M332.7 583.0 V576.5 H425 V583.0" fill="none" stroke="#000" stroke-width="2"/>
<text x="376.9" y="567.6" font-size="15" letter-spacing="0.75" text-anchor="middle"><tspan font-style="italic">P</tspan> &lt; .001</text>
<path d="M261.8 612.0 V605.5 H424.5 V612.0" fill="none" stroke="#000" stroke-width="2"/>
<text x="343" y="598.5" font-size="14.5" text-anchor="middle" letter-spacing="0" font-weight="normal" font-style="normal" >ns</text>
<text x="18.6" y="1062" font-size="25" text-anchor="start" letter-spacing="0" font-weight="bold" font-style="normal" >C</text>
<g fill="#38a7da" stroke="#2982b6" stroke-width="0.7"><circle cx="185.2" cy="1155.6" r="2.25"/><circle cx="189.0" cy="1155.6" r="2.25"/><circle cx="192.8" cy="1155.6" r="2.25"/><circle cx="189.0" cy="1170.3" r="2.25"/><circle cx="183.8" cy="1178.5" r="2.25"/><circle cx="187.1" cy="1178.5" r="2.25"/><circle cx="191.0" cy="1178.5" r="2.25"/><circle cx="194.3" cy="1178.5" r="2.25"/><circle cx="189.0" cy="1189.5" r="2.25"/><circle cx="189.0" cy="1198.2" r="2.25"/><circle cx="187.1" cy="1206.3" r="2.25"/><circle cx="190.5" cy="1206.3" r="2.25"/><circle cx="189.0" cy="1232.3" r="2.25"/><circle cx="186.6" cy="1269.2" r="2.25"/><circle cx="190.7" cy="1270.3" r="2.25"/><circle cx="184.6" cy="1276.6" r="2.25"/><circle cx="188.5" cy="1277.0" r="2.25"/><circle cx="192.0" cy="1278.0" r="2.25"/><circle cx="183.9" cy="1288.7" r="2.25"/><circle cx="187.3" cy="1292.8" r="2.25"/><circle cx="190.7" cy="1292.8" r="2.25"/><circle cx="173.8" cy="1302.9" r="2.25"/><circle cx="183.3" cy="1302.9" r="2.25"/><circle cx="186.6" cy="1304.2" r="2.25"/><circle cx="192.0" cy="1304.9" r="2.25"/><circle cx="196.7" cy="1300.9" r="2.25"/><circle cx="199.4" cy="1305.6" r="2.25"/><circle cx="177.2" cy="1307.6" r="2.25"/><circle cx="181.2" cy="1306.9" r="2.25"/><circle cx="186.0" cy="1308.3" r="2.25"/><circle cx="194.0" cy="1306.9" r="2.25"/><circle cx="200.8" cy="1306.2" r="2.25"/><circle cx="179.9" cy="1312.3" r="2.25"/><circle cx="183.3" cy="1314.3" r="2.25"/><circle cx="186.6" cy="1315.0" r="2.25"/><circle cx="193.4" cy="1313.6" r="2.25"/><circle cx="190.0" cy="1317.7" r="2.25"/><circle cx="185.3" cy="1322.8" r="2.25"/><circle cx="191.3" cy="1322.4" r="2.25"/><circle cx="180.6" cy="1328.2" r="2.25"/><circle cx="183.3" cy="1330.5" r="2.25"/><circle cx="194.0" cy="1327.1" r="2.25"/><circle cx="196.7" cy="1329.8" r="2.25"/><circle cx="191.3" cy="1331.8" r="2.25"/><circle cx="176.5" cy="1334.5" r="2.25"/><circle cx="206.8" cy="1335.4" r="2.25"/><circle cx="169.8" cy="1338.0" r="2.25"/><circle cx="172.5" cy="1338.0" r="2.25"/><circle cx="187.3" cy="1338.0" r="2.25"/><circle cx="191.3" cy="1338.0" r="2.25"/><circle cx="197.4" cy="1338.0" r="2.25"/><circle cx="163.7" cy="1342.0" r="2.25"/><circle cx="168.5" cy="1342.0" r="2.25"/><circle cx="171.8" cy="1342.0" r="2.25"/><circle cx="175.9" cy="1342.0" r="2.25"/><circle cx="179.2" cy="1342.0" r="2.25"/><circle cx="182.6" cy="1342.0" r="2.25"/><circle cx="186.6" cy="1342.0" r="2.25"/><circle cx="192.0" cy="1342.0" r="2.25"/><circle cx="195.4" cy="1342.0" r="2.25"/><circle cx="199.4" cy="1342.0" r="2.25"/><circle cx="203.5" cy="1342.0" r="2.25"/><circle cx="207.5" cy="1342.0" r="2.25"/><circle cx="212.9" cy="1342.0" r="2.25"/><circle cx="167.1" cy="1345.0" r="2.25"/><circle cx="171.0" cy="1345.0" r="2.25"/><circle cx="175.0" cy="1345.0" r="2.25"/><circle cx="179.0" cy="1345.0" r="2.25"/><circle cx="183.3" cy="1345.0" r="2.25"/><circle cx="187.0" cy="1345.0" r="2.25"/><circle cx="191.0" cy="1345.0" r="2.25"/><circle cx="195.0" cy="1345.0" r="2.25"/><circle cx="199.0" cy="1345.0" r="2.25"/><circle cx="203.0" cy="1345.0" r="2.25"/><circle cx="207.0" cy="1345.0" r="2.25"/><circle cx="210.2" cy="1345.0" r="2.25"/></g>
<g fill="#1b5f8e" stroke="#13486d" stroke-width="0.7"><circle cx="269.4" cy="1331.9" r="2.25"/><circle cx="272.5" cy="1332.5" r="2.25"/><circle cx="270.6" cy="1335.6" r="2.25"/><circle cx="268.1" cy="1338.8" r="2.25"/><circle cx="273.1" cy="1338.8" r="2.25"/><circle cx="246.9" cy="1341.8" r="2.25"/><circle cx="249.5" cy="1341.8" r="2.25"/><circle cx="290.0" cy="1341.8" r="2.25"/><circle cx="292.5" cy="1341.8" r="2.25"/><circle cx="246.9" cy="1345.0" r="2.25"/><circle cx="250.0" cy="1345.0" r="2.25"/><circle cx="253.8" cy="1345.0" r="2.25"/><circle cx="257.5" cy="1345.0" r="2.25"/><circle cx="260.6" cy="1345.0" r="2.25"/><circle cx="264.4" cy="1345.0" r="2.25"/><circle cx="267.5" cy="1345.0" r="2.25"/><circle cx="271.0" cy="1345.0" r="2.25"/><circle cx="275.0" cy="1345.0" r="2.25"/><circle cx="278.1" cy="1345.0" r="2.25"/><circle cx="281.3" cy="1345.0" r="2.25"/><circle cx="285.0" cy="1345.0" r="2.25"/><circle cx="288.1" cy="1345.0" r="2.25"/><circle cx="291.3" cy="1345.0" r="2.25"/><circle cx="295.0" cy="1345.0" r="2.25"/><circle cx="297.5" cy="1345.0" r="2.25"/></g>
<g fill="#c8173f" stroke="#a30f31" stroke-width="0.7"><circle cx="345.8" cy="1155.6" r="2.25"/><circle cx="349.8" cy="1155.6" r="2.25"/><circle cx="355.2" cy="1155.6" r="2.25"/><circle cx="359.6" cy="1155.6" r="2.25"/><circle cx="348.7" cy="1178.1" r="2.25"/><circle cx="352.9" cy="1178.1" r="2.25"/><circle cx="357.3" cy="1178.1" r="2.25"/><circle cx="353.0" cy="1189.4" r="2.25"/><circle cx="338.8" cy="1278.6" r="2.25"/><circle cx="342.2" cy="1278.6" r="2.25"/><circle cx="345.6" cy="1278.6" r="2.25"/><circle cx="348.9" cy="1278.6" r="2.25"/><circle cx="353.0" cy="1278.6" r="2.25"/><circle cx="357.0" cy="1278.6" r="2.25"/><circle cx="360.4" cy="1278.6" r="2.25"/><circle cx="363.1" cy="1278.6" r="2.25"/><circle cx="366.4" cy="1278.6" r="2.25"/><circle cx="353.0" cy="1283.5" r="2.25"/><circle cx="345.6" cy="1293.0" r="2.25"/><circle cx="360.4" cy="1293.0" r="2.25"/><circle cx="351.0" cy="1295.3" r="2.25"/><circle cx="355.0" cy="1295.3" r="2.25"/><circle cx="355.7" cy="1300.8" r="2.25"/><circle cx="337.5" cy="1302.8" r="2.25"/><circle cx="341.5" cy="1302.8" r="2.25"/><circle cx="345.6" cy="1302.8" r="2.25"/><circle cx="347.6" cy="1306.3" r="2.25"/><circle cx="351.0" cy="1306.3" r="2.25"/><circle cx="360.4" cy="1306.3" r="2.25"/><circle cx="364.4" cy="1306.3" r="2.25"/><circle cx="340.9" cy="1308.8" r="2.25"/><circle cx="346.2" cy="1312.9" r="2.25"/><circle cx="346.2" cy="1318.0" r="2.25"/><circle cx="350.5" cy="1318.0" r="2.25"/><circle cx="355.3" cy="1318.0" r="2.25"/><circle cx="364.4" cy="1318.0" r="2.25"/><circle cx="351.1" cy="1320.5" r="2.25"/><circle cx="357.2" cy="1320.5" r="2.25"/><circle cx="360.8" cy="1322.9" r="2.25"/><circle cx="364.4" cy="1322.9" r="2.25"/><circle cx="341.4" cy="1324.1" r="2.25"/><circle cx="345.6" cy="1324.1" r="2.25"/><circle cx="355.3" cy="1324.1" r="2.25"/><circle cx="348.1" cy="1326.5" r="2.25"/><circle cx="368.1" cy="1328.3" r="2.25"/><circle cx="374.1" cy="1328.3" r="2.25"/><circle cx="346.2" cy="1330.2" r="2.25"/><circle cx="350.5" cy="1330.2" r="2.25"/><circle cx="357.2" cy="1330.2" r="2.25"/><circle cx="332.3" cy="1332.0" r="2.25"/><circle cx="337.8" cy="1332.0" r="2.25"/><circle cx="342.0" cy="1332.0" r="2.25"/><circle cx="359.6" cy="1332.0" r="2.25"/><circle cx="363.8" cy="1332.0" r="2.25"/><circle cx="369.3" cy="1332.0" r="2.25"/><circle cx="374.1" cy="1333.8" r="2.25"/><circle cx="340.2" cy="1334.4" r="2.25"/><circle cx="345.0" cy="1334.4" r="2.25"/><circle cx="336.5" cy="1336.2" r="2.25"/><circle cx="342.0" cy="1336.2" r="2.25"/><circle cx="346.2" cy="1336.2" r="2.25"/><circle cx="358.4" cy="1336.2" r="2.25"/><circle cx="363.2" cy="1336.2" r="2.25"/><circle cx="368.7" cy="1336.2" r="2.25"/><circle cx="373.5" cy="1336.2" r="2.25"/><circle cx="328.1" cy="1336.8" r="2.25"/><circle cx="377.8" cy="1336.8" r="2.25"/><circle cx="332.9" cy="1338.6" r="2.25"/><circle cx="339.0" cy="1338.6" r="2.25"/><circle cx="343.2" cy="1338.6" r="2.25"/><circle cx="346.8" cy="1338.6" r="2.25"/><circle cx="351.1" cy="1338.6" r="2.25"/><circle cx="356.5" cy="1338.6" r="2.25"/><circle cx="362.0" cy="1338.6" r="2.25"/><circle cx="365.6" cy="1338.6" r="2.25"/><circle cx="334.1" cy="1340.5" r="2.25"/><circle cx="337.8" cy="1340.5" r="2.25"/><circle cx="341.4" cy="1340.5" r="2.25"/><circle cx="345.6" cy="1340.5" r="2.25"/><circle cx="350.5" cy="1340.5" r="2.25"/><circle cx="355.3" cy="1340.5" r="2.25"/><circle cx="359.0" cy="1340.5" r="2.25"/><circle cx="363.8" cy="1340.5" r="2.25"/><circle cx="368.1" cy="1340.5" r="2.25"/><circle cx="373.5" cy="1340.5" r="2.25"/><circle cx="340.2" cy="1342.9" r="2.25"/><circle cx="343.2" cy="1342.9" r="2.25"/><circle cx="348.1" cy="1342.9" r="2.25"/><circle cx="358.4" cy="1342.9" r="2.25"/><circle cx="363.2" cy="1342.9" r="2.25"/><circle cx="369.9" cy="1342.9" r="2.25"/><circle cx="372.9" cy="1344.7" r="2.25"/><circle cx="332.3" cy="1346.5" r="2.25"/><circle cx="342.0" cy="1346.5" r="2.25"/><circle cx="346.2" cy="1346.5" r="2.25"/><circle cx="350.5" cy="1346.5" r="2.25"/><circle cx="359.6" cy="1346.5" r="2.25"/><circle cx="364.4" cy="1346.5" r="2.25"/><circle cx="368.7" cy="1346.5" r="2.25"/></g>
<g fill="#6c4516" stroke="#3e270b" stroke-width="0.7"><circle cx="435.2" cy="1323.1" r="2.25"/><circle cx="431.9" cy="1338.1" r="2.25"/><circle cx="435.0" cy="1336.9" r="2.25"/><circle cx="438.8" cy="1338.8" r="2.25"/><circle cx="411.5" cy="1342.5" r="2.25"/><circle cx="453.5" cy="1342.5" r="2.25"/><circle cx="456.0" cy="1342.5" r="2.25"/><circle cx="410.6" cy="1345.5" r="2.25"/><circle cx="414.4" cy="1345.5" r="2.25"/><circle cx="418.1" cy="1345.5" r="2.25"/><circle cx="422.5" cy="1345.5" r="2.25"/><circle cx="426.3" cy="1345.5" r="2.25"/><circle cx="430.0" cy="1345.5" r="2.25"/><circle cx="433.1" cy="1345.5" r="2.25"/><circle cx="436.9" cy="1345.5" r="2.25"/><circle cx="440.6" cy="1345.5" r="2.25"/><circle cx="443.8" cy="1345.5" r="2.25"/><circle cx="447.5" cy="1345.5" r="2.25"/><circle cx="451.2" cy="1345.5" r="2.25"/><circle cx="454.4" cy="1345.5" r="2.25"/><circle cx="457.5" cy="1345.5" r="2.25"/><circle cx="460.6" cy="1345.5" r="2.25"/></g>
<line x1="134.5" y1="1107.7" x2="134.5" y2="1348.8" stroke="#000" stroke-width="2.3" />
<line x1="133.4" y1="1347.7" x2="489" y2="1347.7" stroke="#000" stroke-width="2.3" />
<line x1="128" y1="1347.7" x2="134.5" y2="1347.7" stroke="#000" stroke-width="2" />
<text x="122.2" y="1354.6000000000001" font-size="16.3" text-anchor="end" letter-spacing="1.6">0</text>
<line x1="128" y1="1289.8" x2="134.5" y2="1289.8" stroke="#000" stroke-width="2" />
<text x="122.2" y="1296.7" font-size="16.3" text-anchor="end" letter-spacing="1.6">2000</text>
<line x1="128" y1="1232.0" x2="134.5" y2="1232.0" stroke="#000" stroke-width="2" />
<text x="122.2" y="1238.9" font-size="16.3" text-anchor="end" letter-spacing="1.6">4000</text>
<line x1="128" y1="1174.2" x2="134.5" y2="1174.2" stroke="#000" stroke-width="2" />
<text x="122.2" y="1181.1000000000001" font-size="16.3" text-anchor="end" letter-spacing="1.6">6000</text>
<line x1="128" y1="1116.4" x2="134.5" y2="1116.4" stroke="#000" stroke-width="2" />
<text x="122.2" y="1123.3000000000002" font-size="16.3" text-anchor="end" letter-spacing="1.6">8000</text>
<line x1="189.0" y1="1347.7" x2="189.0" y2="1354" stroke="#000" stroke-width="2" />
<line x1="271.1" y1="1347.7" x2="271.1" y2="1354" stroke="#000" stroke-width="2" />
<line x1="353.2" y1="1347.7" x2="353.2" y2="1354" stroke="#000" stroke-width="2" />
<line x1="435.4" y1="1347.7" x2="435.4" y2="1354" stroke="#000" stroke-width="2" />
<line x1="189.0" y1="1125.4" x2="189.0" y2="1347.7" stroke="#000" stroke-width="2.2" />
<line x1="175.5" y1="1125.4" x2="202.5" y2="1125.4" stroke="#000" stroke-width="2.4" />
<line x1="271.1" y1="1341.4" x2="271.1" y2="1347.7" stroke="#000" stroke-width="2.2" />
<line x1="257.6" y1="1341.4" x2="284.6" y2="1341.4" stroke="#000" stroke-width="2.4" />
<line x1="353.2" y1="1137.1" x2="353.2" y2="1347.7" stroke="#000" stroke-width="2.2" />
<line x1="339.7" y1="1137.1" x2="366.7" y2="1137.1" stroke="#000" stroke-width="2.4" />
<line x1="435.4" y1="1341.4" x2="435.4" y2="1347.7" stroke="#000" stroke-width="2.2" />
<line x1="421.9" y1="1341.4" x2="448.9" y2="1341.4" stroke="#000" stroke-width="2.4" />
<line x1="161.0" y1="1282.3" x2="217.0" y2="1282.3" stroke="#000" stroke-width="2" stroke-dasharray="2.4 1.68"/>
<line x1="325.2" y1="1288.5" x2="381.2" y2="1288.5" stroke="#000" stroke-width="2" stroke-dasharray="2.4 1.68"/>
<text transform="translate(59.4,1228.6) rotate(-90) scale(0.84,1)" x="0" y="0" font-size="18" text-anchor="middle" dominant-baseline="central" style="stroke-width:0.55px">pg/ml</text>
<text transform="translate(193.4,1372) rotate(-45)" x="0" y="0" font-size="17" text-anchor="end" letter-spacing="0.3">TARC Pre</text>
<text transform="translate(275.5,1372) rotate(-45)" x="0" y="0" font-size="17" text-anchor="end" letter-spacing="0.3">TARC Post</text>
<text transform="translate(357.59999999999997,1372) rotate(-45)" x="0" y="0" font-size="17" text-anchor="end" letter-spacing="0.3">TARC Pre</text>
<text transform="translate(439.79999999999995,1372) rotate(-45)" x="0" y="0" font-size="17" text-anchor="end" letter-spacing="0.3">TARC Post</text>
<text x="173.3" y="1463.7" font-size="16" text-anchor="middle" letter-spacing="0.4" font-weight="normal" font-style="normal" >ABVE-PC</text>
<text x="115.2" y="1492.9" font-size="16">n</text>
<path d="M130.2 1485.6000000000001H141.8M130.2 1488.8000000000002H141.8" stroke="#000" stroke-width="1.35"/>
<text x="146.8" y="1492.9" font-size="16" letter-spacing="0.5">77 patients</text>
<text x="378.2" y="1463.7" font-size="16" text-anchor="middle" letter-spacing="0.4" font-weight="normal" font-style="normal" >Bv-AVEPC</text>
<text x="320.0" y="1494.8" font-size="16">n</text>
<path d="M335 1487.5H346.6M335 1490.7H346.6" stroke="#000" stroke-width="1.35"/>
<text x="351.6" y="1494.8" font-size="16" letter-spacing="0.5">77 patients</text>
<path d="M187.8 1099.4 V1092.9 H280.2 V1099.4" fill="none" stroke="#000" stroke-width="2"/>
<text x="232.1" y="1083.2" font-size="15" letter-spacing="0.75" text-anchor="middle"><tspan font-style="italic">P</tspan> &lt; .001</text>
<path d="M348 1099.0 V1092.5 H440.3 V1099.0" fill="none" stroke="#000" stroke-width="2"/>
<text x="392.4" y="1083.2" font-size="15" letter-spacing="0.75" text-anchor="middle"><tspan font-style="italic">P</tspan> &lt; .001</text>
<path d="M272.6 1132.2 V1125.7 H437 V1132.2" fill="none" stroke="#000" stroke-width="2"/>
<text x="355" y="1117" font-size="14.5" text-anchor="middle" letter-spacing="0" font-weight="normal" font-style="normal" >ns</text>
</svg></body></html>
